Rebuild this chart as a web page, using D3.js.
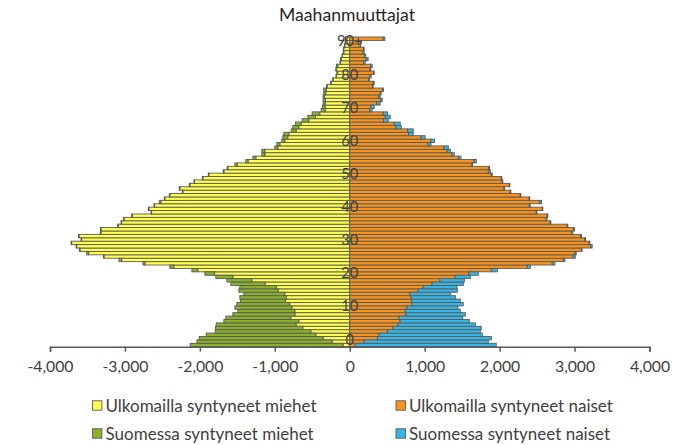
<!DOCTYPE html>
<html>
<head>
<meta charset="utf-8">
<script src="https://cdn.jsdelivr.net/npm/d3@7"></script>
<style>
  html, body { margin: 0; padding: 0; background: #fff; }
  svg { display: block; font-family: Lato, "Open Sans", sans-serif; }
</style>
</head>
<body>
<svg id="chart" width="695" height="445"></svg>
<script>
// Ages 0..90 (90 = 90+)
const ages = d3.range(0, 91);
const ageTickLabels = ["0", "10", "20", "30", "40", "50", "60", "70", "80", "90+"];
const xTicks = [-4000, -3000, -2000, -1000, 0, 1000, 2000, 3000, 4000];

// Men born abroad (Ulkomailla syntyneet miehet)
const menAbroad = [89,236,356,453,520,627,716,680,787,733,
  733,773,800,858,849,867,956,982,1129,1307,
  1560,1804,2027,2347,2733,3044,3280,3484,3600,3644,
  3711,3578,3613,3320,3320,3089,3044,3013,2902,2644,
  2680,2604,2520,2467,2400,2227,2267,2133,2071,1960,
  1880,1680,1627,1502,1356,1253,1133,1133,960,933,
  867,827,813,716,680,649,547,458,400,329,
  329,329,324,338,320,311,302,249,222,178,
  160,178,160,124,115,98,80,80,67,58,55];
// Men born in Finland (Suomessa syntyneet miehet)
const menFinland = [2040,1804,1653,1463,1276,1164,1066,1000,866,827,
  760,760,707,600,618,546,524,485,458,333,
  227,129,80,53,27,36,8,27,8,8,
  8,8,8,8,8,8,8,8,8,8,
  8,8,22,8,8,8,8,8,8,8,
  8,8,8,31,31,40,40,40,40,40,
  40,66,67,66,80,75,88,102,102,53,
  35,26,31,17,27,36,9,9,6,6,
  13,13,18,6,6,6,6,6,3,3,8];
// Women born abroad (Ulkomailla syntyneet naiset)
const womenAbroad = [67,191,369,391,502,578,644,671,658,751,
  738,764,831,822,818,804,911,978,1098,1204,
  1404,1591,1889,2369,2702,2849,2978,3004,3093,3213,
  3195,3135,3080,2962,2990,2902,2675,2622,2635,2489,
  2569,2395,2533,2395,2275,2142,2058,2129,2035,2022,
  1889,1849,1858,1631,1658,1449,1364,1298,1258,1044,
  1082,952,784,772,615,593,450,473,446,268,
  281,361,415,384,406,437,303,312,254,272,
  317,272,276,183,218,200,178,183,140,150,446];
// Women born in Finland (Suomessa syntyneet naiset)
const womenFinland = [1888,1658,1520,1378,1240,1177,1031,924,848,791,
  737,680,684,653,591,538,524,453,417,325,
  205,124,80,40,36,22,31,18,7,22,
  9,12,12,15,8,8,8,8,8,8,
  8,14,27,8,8,8,8,8,8,8,
  13,26,8,8,31,35,31,44,57,40,
  49,54,62,75,72,80,63,67,58,31,
  45,45,18,22,13,13,9,14,9,13,
  9,9,23,22,27,14,14,9,5,5,22];

const seriesNames = ["Ulkomailla syntyneet miehet", "Ulkomailla syntyneet naiset",
                     "Suomessa syntyneet miehet", "Suomessa syntyneet naiset"];
const colors = {
  menAbroad: "#FFFF4F",
  womenAbroad: "#F7941E",
  menFinland: "#8BB12A",
  womenFinland: "#36B6E6"
};
const outline = "#595959";
const textColor = "#404040";

const svg = d3.select("#chart");
svg.append("rect").attr("width", 695).attr("height", 445).attr("fill", "#fff");

const x = d3.scaleLinear().domain([-4000, 4000]).range([50, 649.5]);
const y = d3.scaleBand().domain(ages).range([346.7, 37]).padding(0);
// label positions of the category axis (slightly different spacing, as in the original)
const yLab = d3.scaleBand().domain(ages).range([340.7, 39.3]).padding(0);

const rows = ages.map((a, i) => ({
  age: a,
  ma: menAbroad[i], mf: menFinland[i], wa: womenAbroad[i], wf: womenFinland[i]
}));

const g = svg.append("g");

function bars(cls, x0f, x1f, color) {
  g.selectAll("rect." + cls).data(rows).join("rect")
    .attr("class", cls)
    .attr("x", d => Math.min(x(x0f(d)), x(x1f(d))))
    .attr("width", d => Math.abs(x(x1f(d)) - x(x0f(d))))
    .attr("y", d => y(d.age))
    .attr("height", y.bandwidth())
    .attr("fill", color)
    .attr("stroke", outline)
    .attr("stroke-width", 0.9);
}
bars("ma", d => 0, d => -d.ma, colors.menAbroad);
bars("mf", d => -d.ma, d => -(d.ma + d.mf), colors.menFinland);
bars("wa", d => 0, d => d.wa, colors.womenAbroad);
bars("wf", d => d.wa, d => d.wa + d.wf, colors.womenFinland);

// fit a text's font size so that its width matches the original's
function fitWidth(sel, target) {
  sel.each(function() {
    const w = this.getComputedTextLength();
    const fs = parseFloat(this.style.fontSize);
    if (w > 0) this.style.fontSize = (fs * target / w).toFixed(2) + "px";
  });
}

// X axis
const axisY = 346.7;
const xAxis = d3.axisBottom(x).tickValues(xTicks).tickSize(5).tickPadding(9)
  .tickFormat(d3.format(",d"));
const ax = svg.append("g").attr("transform", `translate(0,${axisY})`).call(xAxis);
ax.select(".domain").attr("stroke", outline).attr("stroke-width", 1.5);
ax.selectAll(".tick line").attr("stroke", outline).attr("stroke-width", 1.5);
const tickTexts = ax.selectAll(".tick text").attr("fill", textColor)
  .style("font-size", "15.5px").style("font-family", "Lato, sans-serif")
  .text(d => d3.format(",d")(d).replace("−", "-"));
const firstTick = tickTexts.filter(d => d === -4000);
{
  const w = firstTick.node().getComputedTextLength();
  const fs = 15.5 * 46 / w;
  tickTexts.style("font-size", fs.toFixed(2) + "px");
}

// Category labels on the zero line
const catLabels = svg.append("g").selectAll("text").data(ageTickLabels).join("text")
  .attr("x", x(0))
  .attr("y", (d, i) => yLab(i * 10) + yLab.bandwidth() / 2)
  .attr("text-anchor", "middle")
  .attr("dominant-baseline", "central")
  .attr("fill", textColor)
  .style("font-size", "15.5px")
  .text(d => d);
{
  const n = catLabels.filter(d => d === "80").node();
  const fs = 15.5 * 17 / n.getComputedTextLength();
  catLabels.style("font-size", fs.toFixed(2) + "px");
}

// Title
const title = svg.append("text").attr("x", 347).attr("y", 14.5)
  .attr("text-anchor", "middle").attr("dominant-baseline", "central")
  .attr("fill", "#262626").style("font-size", "15.5px")
  .text("Maahanmuuttajat");
fitWidth(title, 136);

// Legend
const legendItems = [
  { name: seriesNames[0], color: colors.menAbroad, col: 0, row: 0 },
  { name: seriesNames[1], color: colors.womenAbroad, col: 1, row: 0 },
  { name: seriesNames[2], color: colors.menFinland, col: 0, row: 1 },
  { name: seriesNames[3], color: colors.womenFinland, col: 1, row: 1 }
];
const legX = [92.5, 396];
const legY = [405.5, 433.5];
const lg = svg.append("g").selectAll("g").data(legendItems).join("g")
  .attr("transform", d => `translate(${legX[d.col]},${legY[d.row]})`);
lg.append("rect").attr("x", 0).attr("y", -4.7).attr("width", 9.4).attr("height", 9.4)
  .attr("fill", d => d.color).attr("stroke", outline).attr("stroke-width", 0.9);
const legTexts = lg.append("text").attr("x", 13).attr("y", 0).attr("dominant-baseline", "central")
  .attr("fill", textColor).style("font-size", "15.5px").text(d => d.name);
{
  const n = legTexts.filter(d => d.name === seriesNames[0]).node();
  const fs = 15.5 * 211 / n.getComputedTextLength();
  legTexts.style("font-size", fs.toFixed(2) + "px");
}
</script>
</body>
</html>
